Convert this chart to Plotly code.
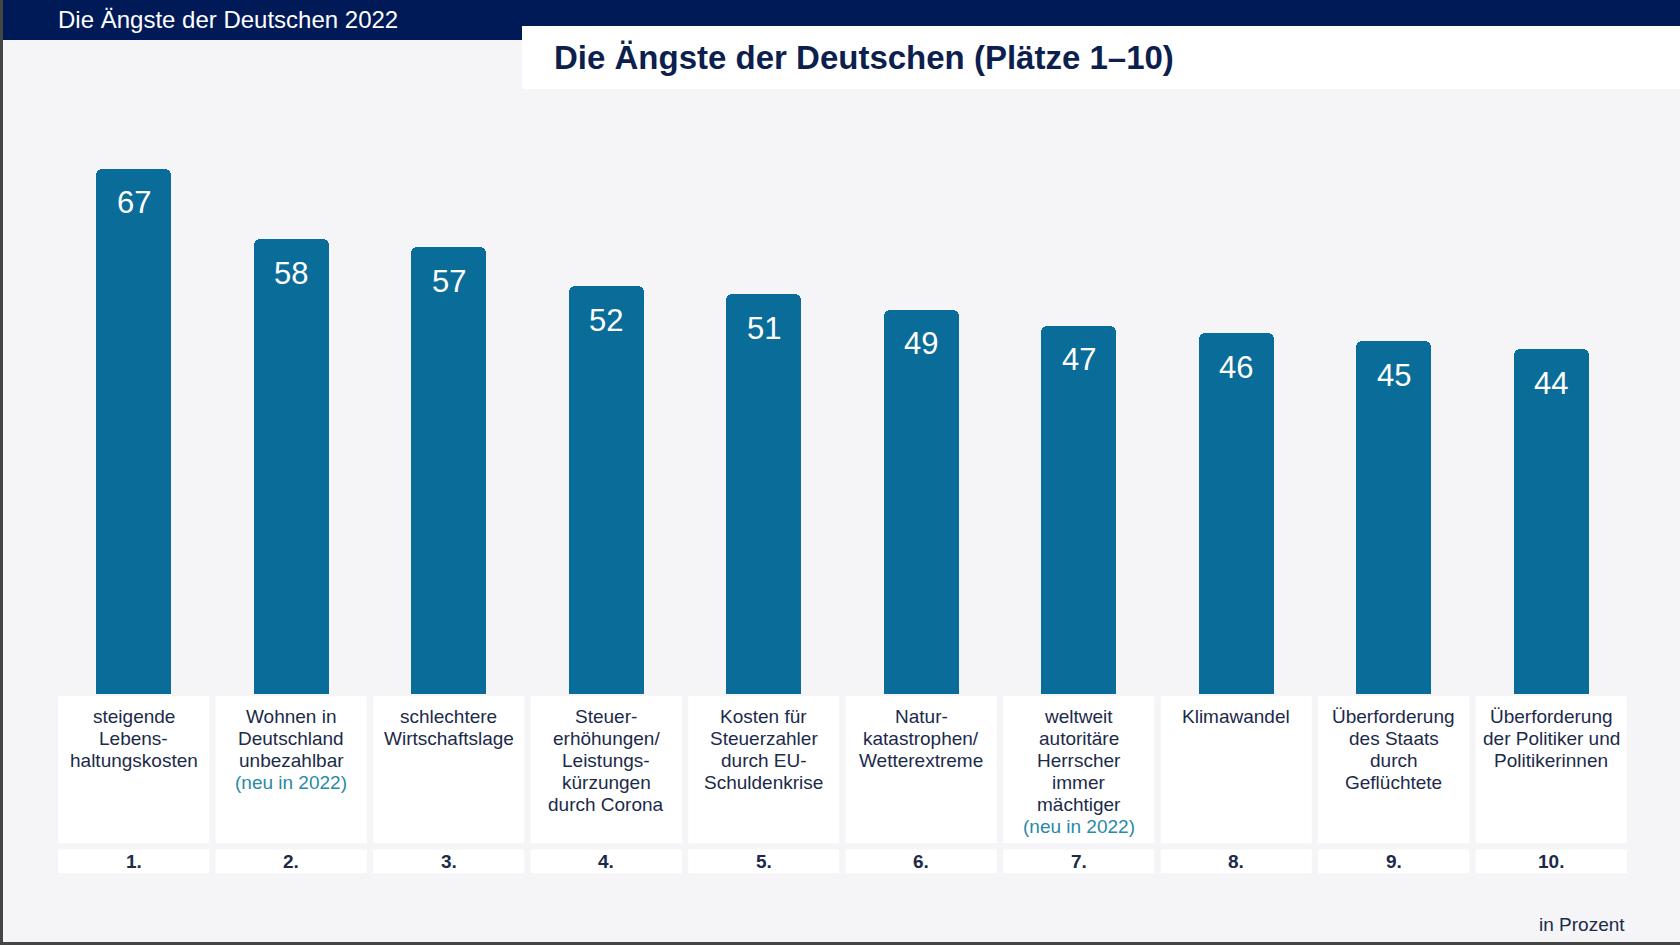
import plotly.graph_objects as go

# ---------------- data ----------------
ranks = ["1.", "2.", "3.", "4.", "5.", "6.", "7.", "8.", "9.", "10."]
values = [67, 58, 57, 52, 51, 49, 47, 46, 45, 44]
labels = [
    "steigende\nLebens-\nhaltungskosten",
    "Wohnen in\nDeutschland\nunbezahlbar",
    "schlechtere\nWirtschaftslage",
    "Steuer-\nerhöhungen/\nLeistungs-\nkürzungen\ndurch Corona",
    "Kosten für\nSteuerzahler\ndurch EU-\nSchuldenkrise",
    "Natur-\nkatastrophen/\nWetterextreme",
    "weltweit\nautoritäre\nHerrscher\nimmer\nmächtiger",
    "Klimawandel",
    "Überforderung\ndes Staats\ndurch\nGeflüchtete",
    "Überforderung\nder Politiker und\nPolitikerinnen",
]
new_in_2022 = [False, True, False, False, False, False, True, False, False, False]
new_note = "(neu in 2022)"
header_text = "Die Ängste der Deutschen 2022"
title_text = "Die Ängste der Deutschen (Plätze 1–10)"
unit_text = "in Prozent"

# ---------------- styles ----------------
W, H = 1680, 945
ML, MR, MT, MB = 55, 50, 67, 65
PW, PH = W - ML - MR, H - MT - MB
BG = "#f5f5f7"
NAVY = "#001a57"
BAR = "#0a6c98"
TXT = "#1c2a4a"
TEAL = "#2a8aa6"
FONT = "Liberation Sans, Arial, Helvetica, sans-serif"
Y_MAX = 80.0
Y_MIN = -23.74
PX_PER_UNIT = PH / (Y_MAX - Y_MIN)


def px_x(x):
    return (x - ML) / PW


def px_y(y):
    return (H - MB - y) / PH


def y_units(px_below_zero):
    return -px_below_zero / PX_PER_UNIT


xs = list(range(len(values)))

fig = go.Figure()
fig.add_trace(go.Bar(
    x=xs, y=values, width=0.476,
    marker=dict(color=BAR, cornerradius=6, line=dict(width=0)),
    hoverinfo="skip",
))

shapes = []
annotations = []

# header bar + title box
shapes.append(dict(type="rect", xref="paper", yref="paper",
                   x0=px_x(0), x1=px_x(W), y0=px_y(40), y1=px_y(0),
                   fillcolor=NAVY, line=dict(width=0), layer="below"))
shapes.append(dict(type="rect", xref="paper", yref="paper",
                   x0=px_x(522), x1=px_x(W), y0=px_y(89), y1=px_y(26),
                   fillcolor="white", line=dict(width=0), layer="below"))
# screenshot borders
shapes.append(dict(type="rect", xref="paper", yref="paper",
                   x0=px_x(0), x1=px_x(3), y0=px_y(H), y1=px_y(0),
                   fillcolor="#454545", line=dict(width=0)))
shapes.append(dict(type="rect", xref="paper", yref="paper",
                   x0=px_x(0), x1=px_x(W), y0=px_y(H), y1=px_y(H - 3),
                   fillcolor="#454545", line=dict(width=0)))

annotations.append(dict(xref="paper", yref="paper", x=px_x(56), y=px_y(20),
                        xanchor="left", yanchor="middle", showarrow=False,
                        text=header_text, font=dict(family=FONT, size=24, color="white")))
annotations.append(dict(xref="paper", yref="paper", x=px_x(552), y=px_y(58),
                        xanchor="left", yanchor="middle", showarrow=False,
                        text="<b>" + title_text + "</b>",
                        font=dict(family=FONT, size=33, color="#0c1f4f")))
annotations.append(dict(xref="paper", yref="paper", x=px_x(1627), y=px_y(924),
                        xanchor="right", yanchor="middle", showarrow=False,
                        text=unit_text, font=dict(family=FONT, size=19, color=TXT)))

for i, (v, lab, nw, rk) in enumerate(zip(values, labels, new_in_2022, ranks)):
    # label box
    shapes.append(dict(type="rect", xref="x", yref="y",
                       x0=i - 0.4795, x1=i + 0.4795,
                       y0=y_units(149.2), y1=y_units(2.4),
                       fillcolor="white", line=dict(width=0), layer="below"))
    # rank box
    shapes.append(dict(type="rect", xref="x", yref="y",
                       x0=i - 0.4795, x1=i + 0.4795,
                       y0=y_units(179.2), y1=y_units(155.6),
                       fillcolor="white", line=dict(width=0), layer="below"))
    # value label
    annotations.append(dict(x=i, y=v, yshift=-34, xanchor="center", yanchor="middle",
                            showarrow=False, text=str(v),
                            font=dict(family=FONT, size=31, color="white")))
    lines = lab.split("\n")
    if nw:
        lines = lines + [new_note]
    for k, ln in enumerate(lines):
        col = TEAL if (nw and k == len(lines) - 1) else TXT
        annotations.append(dict(x=i, y=0, yshift=-(23 + 21.9 * k),
                                xanchor="center", yanchor="middle", showarrow=False,
                                text=ln, font=dict(family=FONT, size=19, color=col)))
    annotations.append(dict(x=i, y=0, yshift=-167.5, xanchor="center", yanchor="middle",
                            showarrow=False, text="<b>" + rk + "</b>",
                            font=dict(family=FONT, size=19, color=TXT)))

fig.update_layout(
    width=W, height=H,
    margin=dict(l=ML, r=MR, t=MT, b=MB, pad=0),
    paper_bgcolor=BG, plot_bgcolor=BG,
    showlegend=False,
    xaxis=dict(range=[-0.5, len(values) - 0.5], visible=False, fixedrange=True),
    yaxis=dict(range=[Y_MIN, Y_MAX], visible=False, fixedrange=True),
    shapes=shapes,
    annotations=annotations,
    bargap=0,
)

fig.write_html(
    "out.html",
    config={"displayModeBar": False},
    post_script="document.body.style.margin='0';document.body.style.padding='0';"
                "document.body.style.overflow='hidden';",
)
